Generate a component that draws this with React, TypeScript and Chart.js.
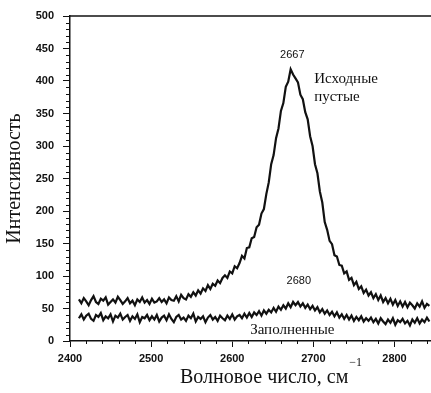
import React, { useEffect, useRef } from "react";
import { Chart, registerables } from "chart.js";

Chart.register(...registerables);

const wavenumbers = [
  2411, 2414, 2417, 2420, 2423, 2426, 2429, 2432, 2435, 2438, 2441, 2444, 2447, 2450, 2453, 2456, 2459, 2462, 2465, 2468,
  2471, 2474, 2477, 2480, 2483, 2486, 2489, 2492, 2495, 2498, 2501, 2504, 2507, 2510, 2513, 2516, 2519, 2522, 2525, 2528,
  2531, 2534, 2537, 2540, 2543, 2546, 2549, 2552, 2555, 2558, 2561, 2564, 2567, 2570, 2573, 2576, 2579, 2582, 2585, 2588,
  2591, 2594, 2597, 2600, 2603, 2606, 2609, 2612, 2615, 2618, 2621, 2624, 2627, 2630, 2633, 2636, 2639, 2642, 2645, 2648,
  2651, 2654, 2657, 2660, 2663, 2666, 2669, 2672, 2675, 2678, 2681, 2684, 2687, 2690, 2693, 2696, 2699, 2702, 2705, 2708,
  2711, 2714, 2717, 2720, 2723, 2726, 2729, 2732, 2735, 2738, 2741, 2744, 2747, 2750, 2753, 2756, 2759, 2762, 2765, 2768,
  2771, 2774, 2777, 2780, 2783, 2786, 2789, 2792, 2795, 2798, 2801, 2804, 2807, 2810, 2813, 2816, 2819, 2822, 2825, 2828,
  2831, 2834, 2837, 2840, 2843,
];

// "Исходные пустые"
const emptyIntensity = [
  64, 58, 66, 61, 55, 63, 69, 60, 57, 65, 62, 67, 56, 60, 64, 59, 68, 63, 57, 61,
  66, 58, 62, 55, 64, 60, 67, 59, 63, 57, 65, 59, 61, 66, 60, 64, 58, 67, 63, 62,
  69, 61, 71, 66, 64, 72, 68, 75, 70, 78, 73, 81, 77, 86, 80, 88, 85, 93, 89, 97,
  101, 97, 107, 104, 115, 112, 120, 131, 127, 143, 144, 158, 160, 175, 179, 196, 203, 226, 244, 272,
  286, 312, 327, 354, 366, 391, 399, 418, 410, 404, 398, 379, 372, 352, 341, 315, 300, 272, 258, 230,
  213, 183, 171, 154, 149, 132, 130, 117, 116, 104, 107, 94, 97, 86, 91, 80, 84, 74, 79, 70,
  75, 66, 72, 63, 70, 60, 66, 58, 65, 56, 63, 54, 61, 53, 60, 52, 59, 55, 50, 58,
  53, 61, 51, 57, 54,
];

// "Заполненные"
const filledIntensity = [
  35, 41, 33, 39, 42, 34, 31, 40, 37, 43, 32, 38, 35, 41, 30, 39, 36, 42, 33, 37,
  40, 31, 38, 34, 41, 29, 37, 35, 40, 32, 38, 33, 40, 30, 36, 39, 32, 41, 34, 29,
  37, 40, 33, 36, 31, 39, 35, 42, 30, 37, 34, 38, 29, 36, 40, 33, 37, 31, 39, 35,
  32, 39, 34, 41, 33, 38, 40, 35, 42, 36, 43, 37, 44, 40, 46, 39, 47, 42, 48, 44,
  51, 45, 53, 48, 55, 50, 58, 52, 60, 55, 60, 53, 58, 51, 56, 49, 54, 47, 52, 44,
  49, 42, 47, 40, 45, 38, 44, 36, 41, 34, 40, 33, 39, 31, 37, 32, 38, 30, 35, 31,
  36, 29, 34, 27, 35, 30, 26, 33, 28, 35, 25, 32, 29, 34, 27, 31, 24, 33, 28, 35,
  27, 33, 29, 36, 30,
];

const xTicks = [2400, 2500, 2600, 2700, 2800];
const yTicks = [0, 50, 100, 150, 200, 250, 300, 350, 400, 450, 500];

// annotations: [text, wavenumber, intensity]
const peakLabels: [string, number, number][] = [
  ["2667", 2674, 440],
  ["2680", 2682, 93],
];
const seriesLabels: [string, number, number, string][] = [
  ["Исходные", 2701, 403, "left"],
  ["пустые", 2701, 375, "left"],
  ["Заполненные", 2674, 17, "center"],
];

const yTitle = "Интенсивность";
const xTitleMain = "Волновое число, см";
const xTitleSup = "−1";

const INK = "#111";
const SANS = '"Liberation Sans", Arial, sans-serif';
const SERIF = '"Liberation Serif", "Times New Roman", serif';

const decorPlugin = {
  id: "decor",
  afterDraw(chart: any) {
    const ctx = chart.ctx as CanvasRenderingContext2D;
    const { left, right, top, bottom } = chart.chartArea;
    const xs = chart.scales.x;
    const ys = chart.scales.y;
    ctx.save();
    ctx.strokeStyle = INK;
    ctx.lineWidth = 1;
    // minor ticks
    for (let v = 10; v < 500; v += 10) {
      if (v % 50 === 0) continue;
      const y = Math.round(ys.getPixelForValue(v)) + 0.5;
      ctx.beginPath();
      ctx.moveTo(left - 4, y);
      ctx.lineTo(left, y);
      ctx.stroke();
    }
    for (let v = 2420; v < 2845; v += 20) {
      if (v % 100 === 0) continue;
      const x = Math.round(xs.getPixelForValue(v)) + 0.5;
      ctx.beginPath();
      ctx.moveTo(x, bottom);
      ctx.lineTo(x, bottom + 3);
      ctx.stroke();
    }
    // top frame line
    ctx.lineWidth = 1.5;
    ctx.beginPath();
    ctx.moveTo(left, top);
    ctx.lineTo(right, top);
    ctx.stroke();

    ctx.fillStyle = INK;
    ctx.textBaseline = "middle";
    ctx.font = `11px ${SANS}`;
    ctx.textAlign = "center";
    for (const [t, w, v] of peakLabels) {
      ctx.fillText(t, xs.getPixelForValue(w), ys.getPixelForValue(v));
    }
    ctx.font = `15px ${SERIF}`;
    for (const [t, w, v, al] of seriesLabels) {
      ctx.textAlign = al as CanvasTextAlign;
      ctx.fillText(t, xs.getPixelForValue(w), ys.getPixelForValue(v));
    }

    // x axis title with superscript
    ctx.textAlign = "left";
    ctx.textBaseline = "alphabetic";
    ctx.font = `20px ${SERIF}`;
    const w1 = ctx.measureText(xTitleMain).width;
    ctx.font = `12px ${SERIF}`;
    const w2 = ctx.measureText(xTitleSup).width;
    const cx = left + 201;
    const x0 = cx - (w1 + w2 + 1) / 2;
    ctx.font = `20px ${SERIF}`;
    ctx.fillText(xTitleMain, x0, 383);
    ctx.font = `12px ${SERIF}`;
    ctx.fillText(xTitleSup, x0 + w1 + 1, 366);
    ctx.restore();
  },
};

export default function App() {
  const ref = useRef<HTMLCanvasElement | null>(null);
  useEffect(() => {
    if (!ref.current) return;
    const line = (vals: number[]) => wavenumbers.map((x, i) => ({ x, y: vals[i] }));
    const chart = new Chart(ref.current, {
      type: "line",
      data: {
        datasets: [
          {
            label: "Исходные пустые",
            data: line(emptyIntensity),
            borderColor: INK,
            borderWidth: 2.2,
            pointRadius: 0,
            tension: 0,
          },
          {
            label: "Заполненные",
            data: line(filledIntensity),
            borderColor: INK,
            borderWidth: 2.2,
            pointRadius: 0,
            tension: 0,
          },
        ],
      },
      options: {
        responsive: false,
        maintainAspectRatio: false,
        animation: false,
        layout: { padding: { top: 16, right: 0, left: 0, bottom: 0 } },
        plugins: { legend: { display: false }, tooltip: { enabled: false } },
        scales: {
          x: {
            type: "linear",
            min: 2400,
            max: 2845,
            afterBuildTicks: (s: any) => {
              s.ticks = xTicks.map((v) => ({ value: v }));
            },
            afterFit: (s: any) => {
              s.height = 52;
            },
            ticks: {
              color: INK,
              font: { family: SANS, size: 11, weight: "bold" },
              padding: 5,
              maxRotation: 0,
              autoSkip: false,
              callback: (v: any) => String(v),
            },
            grid: { drawOnChartArea: false, tickLength: 6, color: INK, lineWidth: 1 },
            border: { display: true, color: INK, width: 1.5 },
          },
          y: {
            type: "linear",
            min: 0,
            max: 500,
            afterBuildTicks: (s: any) => {
              s.ticks = yTicks.map((v) => ({ value: v }));
            },
            afterFit: (s: any) => {
              s.width = 70;
            },
            ticks: {
              color: INK,
              font: { family: SANS, size: 11, weight: "bold" },
              padding: 9,
              autoSkip: false,
              callback: (v: any) => String(v),
            },
            grid: { drawOnChartArea: false, tickLength: 7, color: INK, lineWidth: 1 },
            border: { display: true, color: INK, width: 1.5 },
            title: {
              display: true,
              text: yTitle,
              color: INK,
              font: { family: SERIF, size: 20 },
              padding: { top: 3, bottom: 0 },
            },
          },
        },
      },
      plugins: [decorPlugin],
    } as any);
    return () => chart.destroy();
  }, []);
  return (
    <div style={{ position: "fixed", left: 0, top: 0, width: 431, height: 393, background: "#fff" }}>
      <canvas ref={ref} width={431} height={393} style={{ width: 431, height: 393, display: "block" }} />
    </div>
  );
}
